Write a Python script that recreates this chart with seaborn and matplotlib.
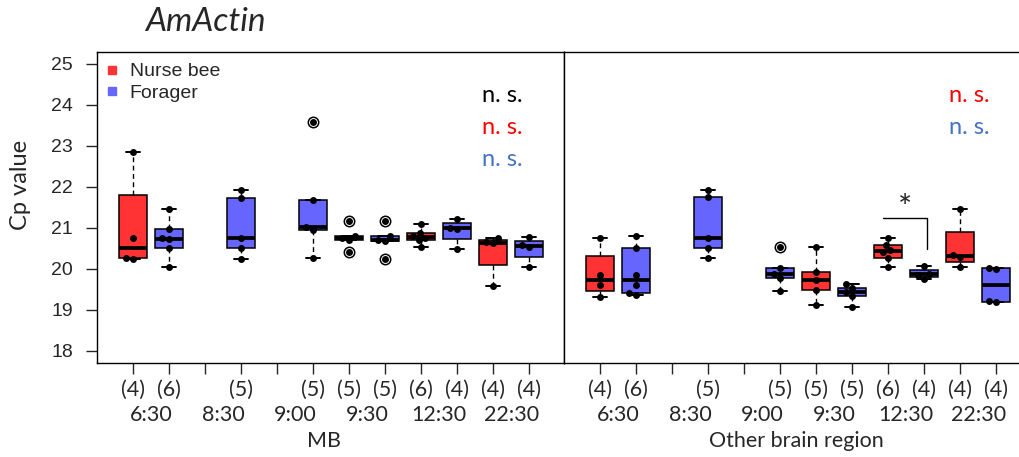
import numpy as np
import pandas as pd
import matplotlib
matplotlib.use("Agg")
import matplotlib.pyplot as plt
import matplotlib.cbook
import seaborn as sns
from matplotlib.lines import Line2D

# ---------------- data ----------------
times = ["6:30", "8:30", "9:00", "9:30", "12:30", "22:30"]
groups = ["Nurse bee", "Forager"]
regions = ["MB", "Other brain region"]

mb_nurse = {
    "6:30": [22.84, 20.74, 20.27, 20.25],
    "9:30": [21.17, 20.79, 20.74, 20.70, 20.42],
    "12:30": [21.10, 20.88, 20.80, 20.76, 20.70, 20.54],
    "22:30": [20.74, 20.65, 20.62, 19.57],
}
mb_forager = {
    "6:30": [21.47, 20.96, 20.75, 20.72, 20.51, 20.05],
    "8:30": [21.92, 21.72, 20.74, 20.50, 20.24],
    "9:00": [23.58, 21.67, 21.01, 20.95, 20.27],
    "9:30": [21.17, 20.79, 20.71, 20.67, 20.24],
    "12:30": [21.21, 21.00, 20.98, 20.48],
    "22:30": [20.77, 20.58, 20.52, 20.05],
}
other_nurse = {
    "6:30": [20.76, 19.85, 19.60, 19.30],
    "9:30": [20.54, 19.93, 19.72, 19.47, 19.12],
    "12:30": [20.76, 20.58, 20.45, 20.40, 20.27, 20.05],
    "22:30": [21.45, 20.33, 20.29, 20.05],
}
other_forager = {
    "6:30": [20.81, 20.50, 19.85, 19.60, 19.42, 19.37],
    "8:30": [21.92, 21.75, 20.76, 20.50, 20.27],
    "9:00": [20.52, 20.03, 19.86, 19.78, 19.45],
    "9:30": [19.62, 19.54, 19.44, 19.34, 19.06],
    "12:30": [20.07, 19.88, 19.85, 19.76],
    "22:30": [20.03, 19.99, 19.22, 19.18],
}

ns_labels = {"MB": [("n. s.", "black"), ("n. s.", "#FF0000"), ("n. s.", "#4472C4")],
             "Other brain region": [("n. s.", "#FF0000"), ("n. s.", "#4472C4")]}
sig_time = "12:30"
sig_text = "*"

palette = {"Nurse bee": "#FF3333", "Forager": "#6666FF"}


def build(nurse, forager):
    rows = []
    for k, t in enumerate(times):
        for g, d, slot in (("Nurse bee", nurse, 2 * k + 1), ("Forager", forager, 2 * k + 2)):
            for v in d.get(t, []):
                rows.append(dict(slot=slot, group=g, value=v))
    return pd.DataFrame(rows)


# R-style (Tukey hinge) box statistics
_orig_stats = matplotlib.cbook.boxplot_stats


def tukey_boxplot_stats(X, whis=1.5, bootstrap=None, labels=None, autorange=False):
    stats = _orig_stats(X, whis=whis, bootstrap=bootstrap, labels=labels, autorange=autorange)
    for s, x in zip(stats, X):
        x = np.sort(np.asarray(x, float))
        n = len(x)
        q1 = np.median(x[:(n + 1) // 2])
        q3 = np.median(x[n // 2:])
        iqr = q3 - q1
        inside = x[(x >= q1 - whis * iqr) & (x <= q3 + whis * iqr)]
        s.update(q1=q1, q3=q3, iqr=iqr, whislo=inside.min(), whishi=inside.max(),
                 fliers=x[(x < inside.min()) | (x > inside.max())])
    return stats


matplotlib.cbook.boxplot_stats = tukey_boxplot_stats

# ---------------- style ----------------
sns.set_style("ticks")
plt.rcParams["font.family"] = ["Lato", "DejaVu Sans"]
plt.rcParams["axes.linewidth"] = 1.0
plt.rcParams["axes.edgecolor"] = "black"

fig = plt.figure(figsize=(10.19, 4.57), dpi=100)
W, H = 1019, 457
ax_l = fig.add_axes([97 / W, (H - 363) / H, 467 / W, 311 / H])
ax_r = fig.add_axes([564 / W, (H - 363) / H, 467 / W, 311 / H])

datasets = [build(mb_nurse, mb_forager), build(other_nurse, other_forager)]

for ax, df, region in zip([ax_l, ax_r], datasets, regions):
    sns.boxplot(data=df, x="slot", y="value", hue="group", hue_order=groups,
                palette=palette, native_scale=True, width=0.8, saturation=1,
                linecolor="black", linewidth=1.1, fliersize=7.5, legend=False, ax=ax,
                medianprops=dict(linewidth=2.7, color="black"),
                whiskerprops=dict(linestyle=(0, (3.5, 2.5)), linewidth=1.0),
                capprops=dict(linewidth=1.4),
                flierprops=dict(marker="o", markerfacecolor="white",
                                markeredgecolor="black", markeredgewidth=1.1))
    sns.swarmplot(data=df, x="slot", y="value", native_scale=True, color="black",
                  size=5.0, ax=ax, zorder=4)

    ax.set_xlim(0, 12.97)
    ax.set_ylim(17.7, 25.29)
    ax.set_xlabel("")
    ax.set_ylabel("")
    counts = df.groupby("slot").size()
    slots = list(range(1, 2 * len(times) + 1))
    ax.set_xticks(slots)
    ax.set_xticklabels([f"({counts[s]})" if s in counts.index else "" for s in slots],
                       fontsize=15.5)
    ax.tick_params(axis="x", length=8, width=1, pad=4, direction="out")
    for sp in ax.spines.values():
        sp.set_visible(True)
        sp.set_linewidth(1.0)
        sp.set_color("black")

    tr = ax.get_xaxis_transform()
    for k, t in enumerate(times):
        ax.text(2 * k + 1.5, -0.168, t, transform=tr, ha="center", va="center", fontsize=15.5)
    ax.text(6.3 if region == "MB" else 6.45, -0.25, region, transform=tr,
            ha="center", va="center", fontsize=15.5)

    for i, (txt, col) in enumerate(ns_labels[region]):
        ax.text(0.825, 0.840 - i * 0.104, txt, transform=ax.transAxes, color=col,
                fontsize=17, ha="left", va="baseline")

# y axis
ax_l.set_yticks(range(18, 26))
ax_l.set_yticklabels([str(v) for v in range(18, 26)], family="Liberation Sans", fontsize=14)
ax_l.tick_params(axis="y", length=7.7, width=1, pad=9.4)
ax_r.set_yticks([])

# significance bracket on the other-region panel
k = times.index(sig_time)
xa, xb = 2 * k + 1 - 0.15, 2 * k + 2 + 0.08
ax_r.plot([xa, xb, xb], [21.23, 21.23, 20.47], color="black", lw=1.0)
ax_r.text((xa + xb) / 2, 21.45, sig_text, ha="center", va="center", fontsize=24)

# legend
handles = [Line2D([], [], marker="s", linestyle="none", markersize=6,
                  markerfacecolor=palette[g], markeredgecolor=palette[g]) for g in groups]
ax_l.legend(handles, groups, loc="upper left", bbox_to_anchor=(0.02, 0.965),
            frameon=False, prop=dict(family="Liberation Sans", size=14),
            handlelength=0.6, handletextpad=0.6, labelspacing=0.2, borderpad=0,
            borderaxespad=0)

fig.text(21 / W, 1 - 185 / H, "Cp value", rotation=90, ha="center", va="center", fontsize=17)
fig.text(205 / W, 1 - 22 / H, "AmActin", style="italic", ha="center", va="center", fontsize=24)

fig.savefig("out.png", dpi=100)
